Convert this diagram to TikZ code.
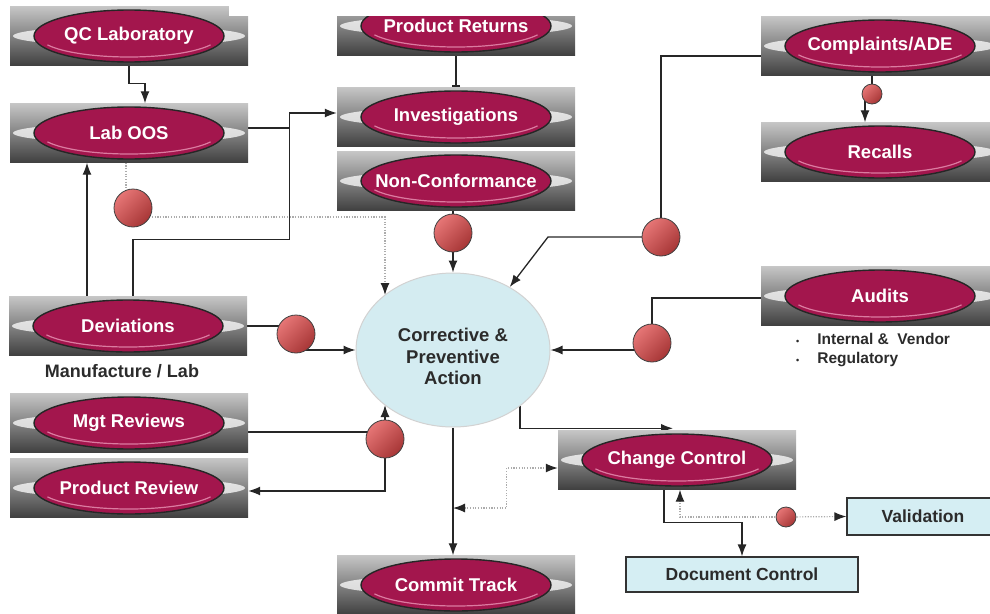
\documentclass[tikz,border=0pt]{standalone}
\usepackage{fontspec}
\setmainfont{Liberation Sans}
\usepackage{xcolor}
\usetikzlibrary{arrows.meta,positioning,shapes.geometric,backgrounds,calc}
\definecolor{OvalCrimson}{HTML}{A3164D}
\definecolor{OvalPink}{HTML}{DB7BA0}
\definecolor{CapaBlue}{HTML}{D4ECF1}
\definecolor{TagBlue}{HTML}{D5EEF3}
\definecolor{BallRed}{HTML}{DE4848}
\definecolor{InkGray}{HTML}{2B2B2B}
\tikzset{
  flowline/.style={line width=1.3pt, draw=black!85},
  flowarrow/.style={flowline, -{Latex[length=12pt,width=9pt]}},
  barline/.style={flowline, -{Bar[width=8pt,line width=2pt]}},
  dotline/.style={line width=1.2pt, draw=gray!65, dash pattern=on 1.2pt off 1.5pt},
  dotarrow/.style={dotline, -{Latex[length=12pt,width=9pt,color=black!85]}},
  dotboth/.style={dotline, {Latex[length=12pt,width=9pt,color=black!85]}-{Latex[length=12pt,width=9pt,color=black!85]}}
}
\begin{document}
\begin{tikzpicture}[
  x=1pt, y=-1pt,
  capsule/.style={rectangle, minimum width=238pt, minimum height=59pt, inner sep=0pt,
    text=white, font=\fontsize{18.5}{20}\selectfont\bfseries,
    path picture={
      \shade[top color=gray!45, middle color=gray!80, bottom color=black!75]
        (path picture bounding box.south west) rectangle (path picture bounding box.north east);
      \fill[white, opacity=0.75] (path picture bounding box.center) ellipse [x radius=116pt, y radius=10pt];
      \filldraw[fill=OvalCrimson, draw=black!85, line width=1.4pt]
        (path picture bounding box.center) ellipse [x radius=95pt, y radius=26pt];
      \draw[OvalPink, line width=1.2pt] (path picture bounding box.center) ++(205:90pt and 21pt)
        arc [start angle=205, end angle=335, x radius=90pt, y radius=21pt];
    }},
  capa/.style={ellipse, minimum width=194pt, minimum height=154pt, inner sep=0pt,
    fill=CapaBlue, draw=gray!35, line width=1pt, align=center, text=InkGray,
    font=\fontsize{18.5}{21.5}\selectfont\bfseries},
  tagbox/.style={rectangle, fill=TagBlue, draw=black!80, line width=1.2pt, text=InkGray,
    font=\fontsize{17.5}{20}\selectfont\bfseries},
  redball/.style={circle, minimum size=38pt, inner sep=0pt, draw=black!75, line width=0.8pt,
    top color=BallRed!75!white, middle color=BallRed, bottom color=BallRed!75!black, shading angle=45},
  redknob/.style={redball, minimum size=20pt}
]
\useasboundingbox (0,0) rectangle (990,613);

% left column
\node[capsule] at (129,36) (qclab) {QC Laboratory};
\node[capsule] at (129,133) (laboos) {Lab OOS};
\node[capsule] at (128,326) (deviations) {Deviations};
\node[font=\fontsize{18}{20}\selectfont\bfseries, text=InkGray] at (122,371) (mfglab) {Manufacture / Lab};
\node[capsule] at (129,423) (mgtrev) {Mgt Reviews};
\node[capsule] at (129,488) (prodrev) {Product Review};
% middle column
\node[capsule] at (456,26) (returns) {Product Returns};
\node[capsule] at (456,117) (invest) {Investigations};
\node[capsule] at (456,181) (noncon) {Non-Conformance};
\node[capa] at (453,350) (capa) {\rule{0pt}{27pt}Corrective \&\\Preventive\\Action};
\node[capsule] at (456,585) (commit) {Commit Track};
% right column
\node[capsule] at (880,46) (complaints) {Complaints/ADE};
\node[capsule] at (880,152) (recalls) {Recalls};
\node[capsule] at (880,296) (audits) {Audits};
\node[anchor=west, align=left, inner sep=0pt, text=InkGray, font=\fontsize{15.5}{19}\selectfont\bfseries]
  at (796,350) (auditnotes) {{\fontsize{9}{9}\selectfont\textbullet}\hspace{18pt}Internal \&\ \ Vendor\\
  {\fontsize{9}{9}\selectfont\textbullet}\hspace{18pt}Regulatory};
\node[capsule] at (677,460) (change) {Change Control};
\node[tagbox, minimum width=232pt, minimum height=35pt] at (742,574.5) (doccontrol) {Document Control};
\node[tagbox, minimum width=152pt, minimum height=37pt] at (923,516.5) (validation) {Validation};
% white strip over the top edge
\fill[white] (229,0) rectangle (600,16);

% red balls on the feeds
\node[redball] at (133,208) (ballLab) {};
\node[redball] at (453,233) (ballNC) {};
\node[redball] at (661,237) (ballComp) {};
\node[redball] at (296,334) (ballDev) {};
\node[redball] at (652,343) (ballAud) {};
\node[redball] at (385,439) (ballMgt) {};
\node[redknob] at (872,94) (dotComp) {};
\node[redknob] at (786,517) (dotVal) {};

\begin{scope}[on background layer]
% feeds into Lab OOS and Investigations
\draw[flowarrow] (qclab.south) -- ++(0,18) -| ([xshift=16pt]laboos.north);
\draw[flowarrow] ([yshift=5pt]laboos.east) -- ++(41,0) coordinate (oosjoin) |- ([yshift=4pt]invest.west);
\draw[flowline] ([xshift=5pt]deviations.north) -- ++(0,-57) -| (oosjoin);
\draw[flowarrow] ([xshift=-41pt]deviations.north) -- ([xshift=-41pt]deviations.north |- laboos.south);
\draw[barline] (returns.south) -- (invest.north);
% Lab OOS (dotted) into CAPA
\draw[dotline] ([xshift=-7pt]ballLab.center |- laboos.south) -- ([xshift=-7pt]ballLab.center);
\draw[dotarrow] ([yshift=-9pt]ballLab.center) -| ([xshift=-68pt,yshift=55pt]capa.center);
% sources into CAPA
\draw[flowarrow] (noncon.south -| capa.north) -- (capa.north);
\draw[flowline] ([yshift=-10pt]complaints.west) -| (ballComp.center);
\draw[flowarrow] (ballComp.center) -- ++(-113,0) -- (capa.48);
\draw[flowline] (complaints.south -| dotComp) -- (dotComp);
\draw[flowarrow] ([xshift=-7pt]dotComp.center) -- ([xshift=-7pt]dotComp.center |- recalls.north);
\draw[flowline] ([yshift=-2pt]audits.west) -| (ballAud.center);
\draw[flowarrow] (ballAud.center |- capa.east) -- (capa.east);
\draw[flowline] (deviations.east) -- (deviations.east -| ballDev.center);
\draw[flowarrow] (ballDev.center |- capa.west) -- (capa.west);
\draw[flowline] ([yshift=-9pt]mgtrev.east) -- ([yshift=-9pt]mgtrev.east -| ballMgt.center);
\draw[flowarrow] (ballMgt.center) -- ([xshift=-68pt,yshift=-55pt]capa.center);
\draw[flowarrow] (ballMgt.center) |- ([yshift=-3pt]prodrev.east);
% CAPA outputs
\draw[flowarrow] ([xshift=67pt,yshift=-56pt]capa.center) |- ([xshift=-4pt,yshift=2pt]change.north);
\draw[flowarrow] (capa.south) -- coordinate[pos=0.63] (cmid) (capa.south |- commit.north);
\draw[dotboth] (cmid) -| ([xshift=-51pt,yshift=-8pt]change.west) -- ([yshift=-8pt]change.west);
\draw[flowarrow] ([xshift=-13pt]change.south) -- ++(0,33) -| (doccontrol.north);
\draw[dotarrow] (dotVal.center) -- (validation.west);
\draw[dotarrow] (dotVal.center) -| ([xshift=3pt]change.south);
\end{scope}
\end{tikzpicture}
\end{document}
